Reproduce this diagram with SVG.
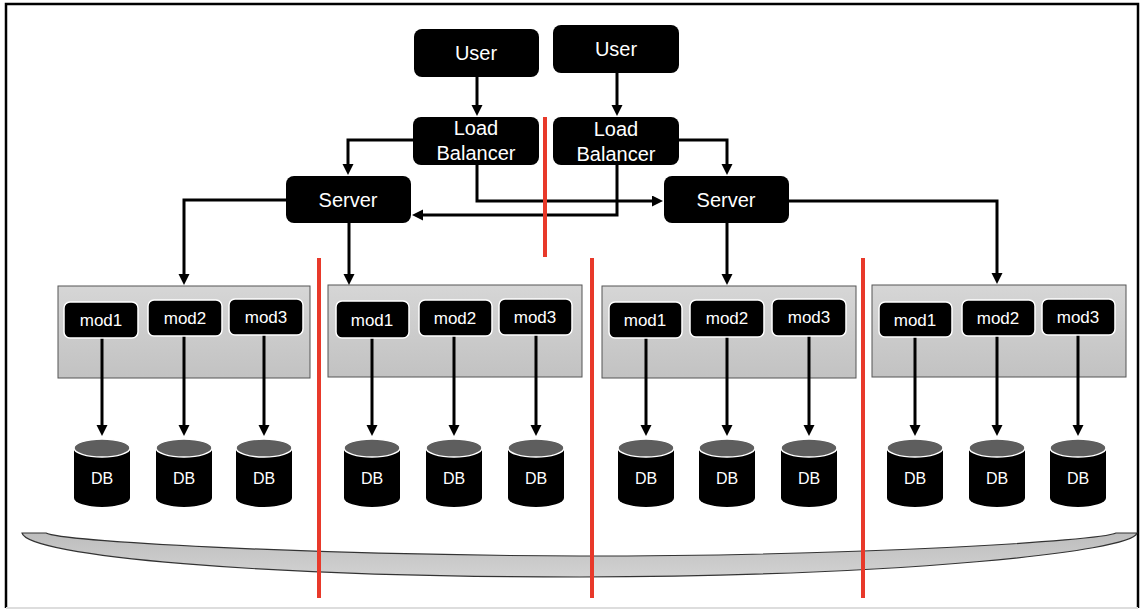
<svg xmlns="http://www.w3.org/2000/svg" width="1141" height="610" viewBox="0 0 1141 610">
<style>
.node rect{fill:#000;}
.big{fill:#fff;font-family:"Liberation Sans",Arial,sans-serif;font-size:20px;text-anchor:middle;}
.mod rect{fill:#000;stroke:#fff;stroke-width:1.5;}
.mt{fill:#fff;font-family:"Liberation Sans",Arial,sans-serif;font-size:17px;text-anchor:middle;}
.box{fill:url(#boxg);stroke:#555;stroke-width:1;}
.dbb{fill:#000;}
.dbt{fill:#5e5e5e;stroke:#fff;stroke-width:1.5;}
.dt{fill:#fff;font-family:"Liberation Sans",Arial,sans-serif;font-size:16px;text-anchor:middle;}
.c{fill:none;stroke:#000;stroke-width:3;marker-end:url(#ah);}
.red{stroke:#e8392a;stroke-width:4;}
</style>
<defs>
<linearGradient id="boxg" x1="0" y1="0" x2="0" y2="1">
<stop offset="0" stop-color="#d6d6d6"/><stop offset="1" stop-color="#c2c2c2"/>
</linearGradient>
<linearGradient id="bowlg" x1="0" y1="0" x2="0" y2="1">
<stop offset="0" stop-color="#bdbdbd"/><stop offset="1" stop-color="#d2d2d2"/>
</linearGradient>
<marker id="ah" markerUnits="userSpaceOnUse" markerWidth="12" markerHeight="12" refX="1" refY="5.5" orient="auto">
<path d="M0,0 L11,5.5 L0,11 z" fill="#000"/>
</marker>
</defs>
<rect width="1141" height="610" fill="#fff"/>
<path d="M6,608 V4 H1138 V608" fill="none" stroke="#000" stroke-width="2.5"/>
<line x1="6" y1="608" x2="1138" y2="608" stroke="#ddd" stroke-width="2"/>

<g id="bowl">
<path d="M22,533 L46,533 C60,541 300,555 580,556 C860,556 1100,541 1116,533 L1137,533 C1132,552 900,576 580,577 C260,577 28,556 22,533 Z" fill="url(#bowlg)" stroke="#333" stroke-width="1.2"/>
</g>

<g id="box1"><rect class="box" x="58" y="286" width="252" height="92"/></g>
<g id="box2"><rect class="box" x="328" y="285" width="254" height="92"/></g>
<g id="box3"><rect class="box" x="602" y="286" width="254" height="92"/></g>
<g id="box4"><rect class="box" x="872" y="285" width="254" height="92"/></g>

<g id="connectors">
<path class="c" d="M477,77 V106"/>
<path class="c" d="M617,73 V106"/>
<path class="c" d="M413,140 H348 V165"/>
<path class="c" d="M679,140 H727 V165"/>
<path class="c" d="M477,165 V201 H653"/>
<path class="c" d="M617,165 V215 H422"/>
<path class="c" d="M286,200 H184 V275"/>
<path class="c" d="M349,223 V275"/>
<path class="c" d="M727,223 V275"/>
<path class="c" d="M789,201 H997 V274"/>
<path class="c" d="M102,338 V426"/>
<path class="c" d="M184,336 V426"/>
<path class="c" d="M264,335 V426"/>
<path class="c" d="M372,338 V426"/>
<path class="c" d="M454,336 V426"/>
<path class="c" d="M536,335 V426"/>
<path class="c" d="M646,338 V426"/>
<path class="c" d="M727,337 V426"/>
<path class="c" d="M809,336 V426"/>
<path class="c" d="M915,337 V426"/>
<path class="c" d="M997,336 V426"/>
<path class="c" d="M1078,335 V426"/>
</g>

<g id="user1" class="node"><rect x="414" y="29" width="125" height="48" rx="8"/><text class="big" x="476" y="60">User</text></g>
<g id="user2" class="node"><rect x="553" y="25" width="126" height="48" rx="8"/><text class="big" x="616" y="56">User</text></g>
<g id="lb1" class="node"><rect x="413" y="117" width="126" height="48" rx="8"/><text class="big" x="476" y="135">Load</text><text class="big" x="476" y="160">Balancer</text></g>
<g id="lb2" class="node"><rect x="553" y="117" width="126" height="48" rx="8"/><text class="big" x="616" y="136">Load</text><text class="big" x="616" y="161">Balancer</text></g>
<g id="server1" class="node"><rect x="286" y="176" width="125" height="47" rx="8"/><text class="big" x="348" y="207">Server</text></g>
<g id="server2" class="node"><rect x="664" y="176" width="125" height="47" rx="8"/><text class="big" x="726" y="207">Server</text></g>

<g id="b1m1" class="mod"><rect x="64" y="302" width="74" height="36" rx="6"/><text class="mt" x="101" y="326">mod1</text></g>
<g id="b1m2" class="mod"><rect x="148" y="300" width="74" height="36" rx="6"/><text class="mt" x="185" y="324">mod2</text></g>
<g id="b1m3" class="mod"><rect x="229" y="299" width="74" height="36" rx="6"/><text class="mt" x="266" y="323">mod3</text></g>
<g id="b2m1" class="mod"><rect x="336" y="301" width="73" height="37" rx="6"/><text class="mt" x="372" y="326">mod1</text></g>
<g id="b2m2" class="mod"><rect x="419" y="300" width="73" height="36" rx="6"/><text class="mt" x="455" y="324">mod2</text></g>
<g id="b2m3" class="mod"><rect x="499" y="299" width="73" height="36" rx="6"/><text class="mt" x="535" y="323">mod3</text></g>
<g id="b3m1" class="mod"><rect x="609" y="302" width="73" height="36" rx="6"/><text class="mt" x="645" y="326">mod1</text></g>
<g id="b3m2" class="mod"><rect x="690" y="300" width="74" height="37" rx="6"/><text class="mt" x="727" y="324">mod2</text></g>
<g id="b3m3" class="mod"><rect x="772" y="299" width="74" height="37" rx="6"/><text class="mt" x="809" y="323">mod3</text></g>
<g id="b4m1" class="mod"><rect x="879" y="302" width="73" height="35" rx="6"/><text class="mt" x="915" y="326">mod1</text></g>
<g id="b4m2" class="mod"><rect x="962" y="300" width="73" height="36" rx="6"/><text class="mt" x="998" y="324">mod2</text></g>
<g id="b4m3" class="mod"><rect x="1042" y="299" width="73" height="36" rx="6"/><text class="mt" x="1078" y="323">mod3</text></g>

<g id="db_b1_1"><path class="dbb" d="M74,448 V498 A28,9 0 0 0 130,498 V448 Z"/><ellipse class="dbt" cx="102" cy="448" rx="28" ry="9"/><text class="dt" x="102" y="484">DB</text></g>
<g id="db_b1_2"><path class="dbb" d="M156,448 V498 A28,9 0 0 0 212,498 V448 Z"/><ellipse class="dbt" cx="184" cy="448" rx="28" ry="9"/><text class="dt" x="184" y="484">DB</text></g>
<g id="db_b1_3"><path class="dbb" d="M236,448 V498 A28,9 0 0 0 292,498 V448 Z"/><ellipse class="dbt" cx="264" cy="448" rx="28" ry="9"/><text class="dt" x="264" y="484">DB</text></g>
<g id="db_b2_1"><path class="dbb" d="M344,448 V498 A28,9 0 0 0 400,498 V448 Z"/><ellipse class="dbt" cx="372" cy="448" rx="28" ry="9"/><text class="dt" x="372" y="484">DB</text></g>
<g id="db_b2_2"><path class="dbb" d="M426,448 V498 A28,9 0 0 0 482,498 V448 Z"/><ellipse class="dbt" cx="454" cy="448" rx="28" ry="9"/><text class="dt" x="454" y="484">DB</text></g>
<g id="db_b2_3"><path class="dbb" d="M508,448 V498 A28,9 0 0 0 564,498 V448 Z"/><ellipse class="dbt" cx="536" cy="448" rx="28" ry="9"/><text class="dt" x="536" y="484">DB</text></g>
<g id="db_b3_1"><path class="dbb" d="M618,448 V498 A28,9 0 0 0 674,498 V448 Z"/><ellipse class="dbt" cx="646" cy="448" rx="28" ry="9"/><text class="dt" x="646" y="484">DB</text></g>
<g id="db_b3_2"><path class="dbb" d="M699,448 V498 A28,9 0 0 0 755,498 V448 Z"/><ellipse class="dbt" cx="727" cy="448" rx="28" ry="9"/><text class="dt" x="727" y="484">DB</text></g>
<g id="db_b3_3"><path class="dbb" d="M781,448 V498 A28,9 0 0 0 837,498 V448 Z"/><ellipse class="dbt" cx="809" cy="448" rx="28" ry="9"/><text class="dt" x="809" y="484">DB</text></g>
<g id="db_b4_1"><path class="dbb" d="M887,448 V498 A28,9 0 0 0 943,498 V448 Z"/><ellipse class="dbt" cx="915" cy="448" rx="28" ry="9"/><text class="dt" x="915" y="484">DB</text></g>
<g id="db_b4_2"><path class="dbb" d="M969,448 V498 A28,9 0 0 0 1025,498 V448 Z"/><ellipse class="dbt" cx="997" cy="448" rx="28" ry="9"/><text class="dt" x="997" y="484">DB</text></g>
<g id="db_b4_3"><path class="dbb" d="M1050,448 V498 A28,9 0 0 0 1106,498 V448 Z"/><ellipse class="dbt" cx="1078" cy="448" rx="28" ry="9"/><text class="dt" x="1078" y="484">DB</text></g>

<g id="partitions">
<line class="red" x1="545" y1="117" x2="545" y2="257"/>
<line class="red" x1="319" y1="258" x2="319" y2="598"/>
<line class="red" x1="592" y1="258" x2="592" y2="598"/>
<line class="red" x1="863" y1="258" x2="863" y2="598"/>
</g>
</svg>
